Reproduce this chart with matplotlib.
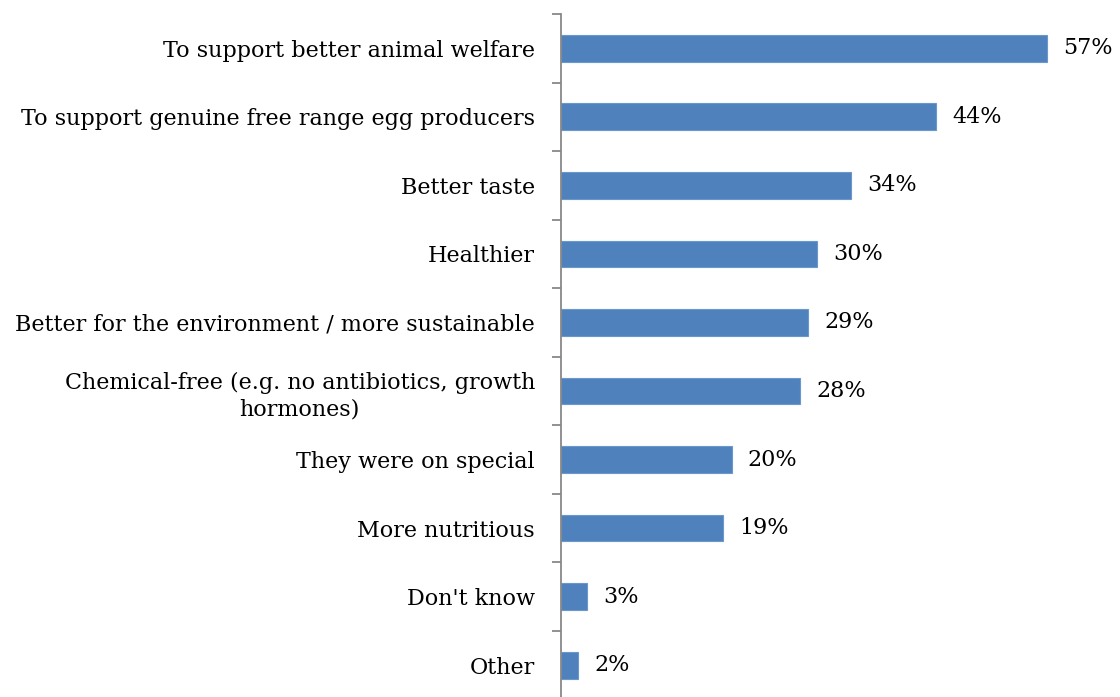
import matplotlib.pyplot as plt
import numpy as np

# reasons for buying free range eggs
categories = [
    "To support better animal welfare",
    "To support genuine free range egg producers",
    "Better taste",
    "Healthier",
    "Better for the environment / more sustainable",
    "Chemical-free (e.g. no antibiotics, growth\nhormones)",
    "They were on special",
    "More nutritious",
    "Don't know",
    "Other",
]
values = [57, 44, 34, 30, 29, 28, 20, 19, 3, 2]

plt.rcParams["font.family"] = ["DejaVu Serif"]

fig = plt.figure(figsize=(11.2, 6.97), dpi=100)
ax = fig.add_axes([561 / 1120, 1 - 699.5 / 697, 512 / 1120, 685.5 / 697])

y = np.arange(len(categories))
ax.barh(y, values, height=0.39, color="#4F81BD", edgecolor="#6B97CC", linewidth=0.8)

for yi, v in zip(y, values):
    ax.text(v + 1.9, yi, f"{v}%", va="center", ha="left", fontsize=16)

ax.set_xlim(0, 60)
ax.set_ylim(len(categories) - 0.5, -0.5)
ax.set_yticks(y)
ax.set_yticklabels(categories, fontsize=16)
for lab in ax.get_yticklabels():
    lab.set_multialignment("center")
    lab.set_linespacing(1.3)
ax.set_yticks(np.arange(-0.5, len(categories)), minor=True)
ax.tick_params(axis="y", which="major", length=0, pad=18.7)
ax.tick_params(axis="y", which="minor", length=6.5, width=1.3, color="#888888")
ax.set_xticks([])

for s in ["top", "right", "bottom"]:
    ax.spines[s].set_visible(False)
ax.spines["left"].set_color("#888888")
ax.spines["left"].set_linewidth(1.3)
ax.patch.set_alpha(0)

fig.savefig("out.png", dpi=100)
